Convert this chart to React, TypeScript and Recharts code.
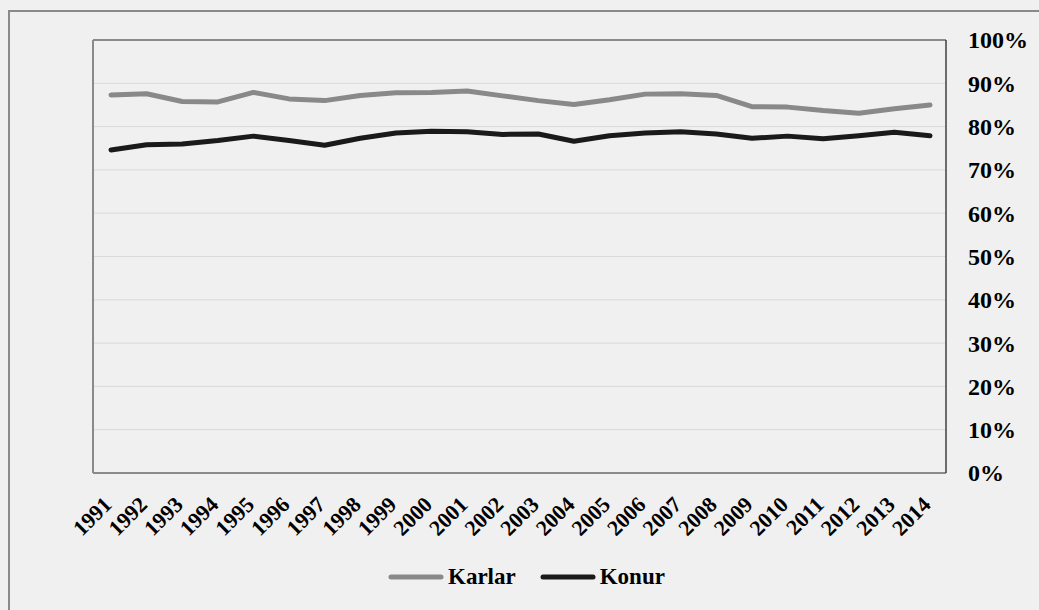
import React from "react";
import {
  LineChart,
  Line,
  XAxis,
  YAxis,
  CartesianGrid,
  Legend,
} from "recharts";

const years = [
  "1991", "1992", "1993", "1994", "1995", "1996", "1997", "1998",
  "1999", "2000", "2001", "2002", "2003", "2004", "2005", "2006",
  "2007", "2008", "2009", "2010", "2011", "2012", "2013", "2014",
];

const karlar = [
  87.3, 87.6, 85.8, 85.7, 87.9, 86.4, 86.0, 87.2,
  87.8, 87.9, 88.2, 87.1, 86.0, 85.1, 86.2, 87.5,
  87.6, 87.2, 84.6, 84.5, 83.7, 83.1, 84.1, 85.0,
];

const konur = [
  74.6, 75.8, 76.0, 76.8, 77.8, 76.8, 75.7, 77.3,
  78.5, 78.9, 78.8, 78.2, 78.3, 76.6, 77.9, 78.5,
  78.8, 78.3, 77.3, 77.8, 77.2, 77.9, 78.7, 77.9,
];

const yTicks = [0, 10, 20, 30, 40, 50, 60, 70, 80, 90, 100];

const FONT = '"Liberation Serif", "Times New Roman", serif';

const data = years.map((year, i) => ({ year, Karlar: karlar[i], Konur: konur[i] }));

function YearTick(props: any) {
  const { x, y, payload } = props;
  const px = x + 2;
  const py = y + 33;
  return (
    <text
      x={px}
      y={py}
      transform={`rotate(-45, ${px}, ${py})`}
      textAnchor="end"
      fontFamily={FONT}
      fontWeight="bold"
      fontSize={22}
      fill="#000"
    >
      {payload.value}
    </text>
  );
}

function PercentTick(props: any) {
  const { x, y, payload } = props;
  return (
    <text
      x={x}
      y={y}
      dy="0.35em"
      textAnchor="start"
      fontFamily={FONT}
      fontWeight="bold"
      fontSize={24}
      fill="#000"
    >
      {payload.value}%
    </text>
  );
}

function LegendContent(props: any) {
  const items = props.payload || [];
  return (
    <div style={{ display: "flex", alignItems: "center", fontFamily: FONT }}>
      {items.map((item: any, i: number) => (
        <div
          key={item.value}
          style={{ display: "flex", alignItems: "center", marginLeft: i === 0 ? 0 : 24 }}
        >
          <svg width={56} height={8}>
            <line x1={3} y1={4} x2={53} y2={4} stroke={item.color} strokeWidth={5} strokeLinecap="round" />
          </svg>
          <span style={{ marginLeft: 4, fontSize: 23, fontWeight: "bold", color: "#000" }}>
            {item.value}
          </span>
        </div>
      ))}
    </div>
  );
}

export default function App() {
  return (
    <div
      style={{
        position: "absolute",
        left: 0,
        top: 0,
        width: 1039,
        height: 610,
        background: "#f0f0f0",
        overflow: "hidden",
      }}
    >
      <div
        style={{
          position: "absolute",
          left: 8,
          top: 10,
          width: 1100,
          height: 700,
          border: "2px solid #8a8a8a",
        }}
      />
      <div style={{ position: "absolute", left: 0, top: 0 }}>
        <LineChart
          width={1039}
          height={610}
          data={data}
          margin={{ top: 40, right: 0, left: 93, bottom: 0 }}
        >
          <CartesianGrid vertical={false} stroke="#d9d9d9" strokeWidth={1} />
          {/* plot frame: top and left edges */}
          <CartesianGrid
            stroke="#8a8a8a"
            strokeWidth={2}
            horizontalCoordinatesGenerator={(p: any) => [p.offset.top]}
            verticalCoordinatesGenerator={(p: any) => [p.offset.left]}
          />
          <XAxis
            dataKey="year"
            height={137}
            padding={{ left: 18, right: 16 }}
            tickSize={0}
            tickMargin={0}
            interval={0}
            stroke="#8a8a8a"
            strokeWidth={2}
            tick={<YearTick />}
          />
          <YAxis
            orientation="right"
            width={93}
            domain={[0, 100]}
            ticks={yTicks}
            interval={0}
            tickSize={0}
            tickMargin={22}
            stroke="#404040"
            strokeWidth={1.5}
            tick={<PercentTick />}
          />
          <Legend
            verticalAlign="middle"
            layout="horizontal"
            align="center"
            content={<LegendContent />}
            wrapperStyle={{ left: 388, top: 564, width: 330, height: 30 }}
          />
          <Line
            type="linear"
            dataKey="Karlar"
            stroke="#898989"
            strokeWidth={5}
            strokeLinecap="round"
            strokeLinejoin="round"
            dot={false}
            isAnimationActive={false}
          />
          <Line
            type="linear"
            dataKey="Konur"
            stroke="#1a1a1a"
            strokeWidth={5}
            strokeLinecap="round"
            strokeLinejoin="round"
            dot={false}
            isAnimationActive={false}
          />
        </LineChart>
      </div>
    </div>
  );
}
